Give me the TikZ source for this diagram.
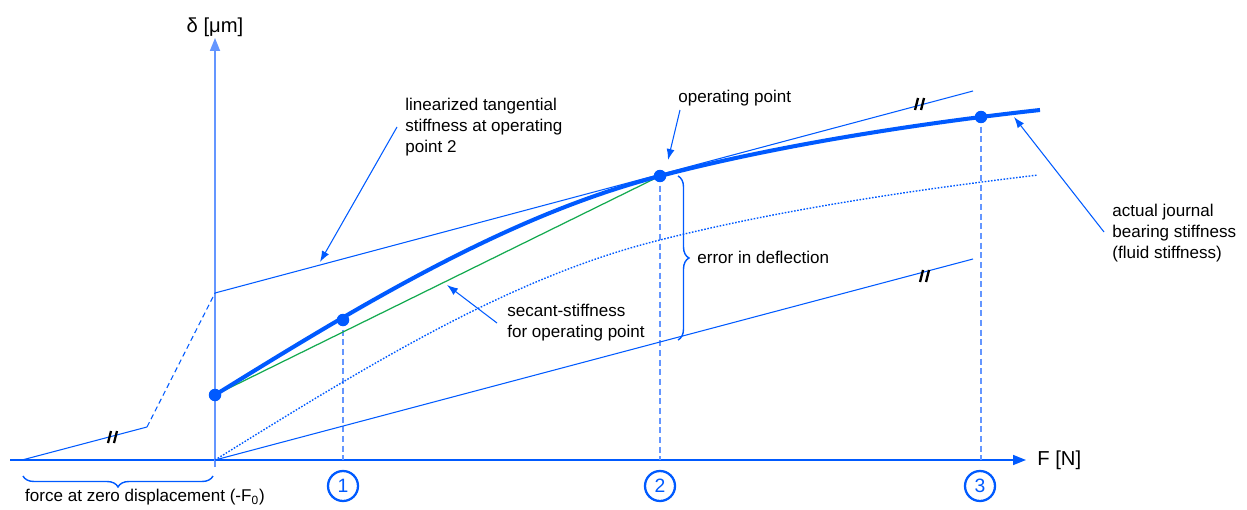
\documentclass[tikz,border=0pt]{standalone}
\usepackage{fontspec}
\setmainfont{Liberation Sans}
\usetikzlibrary{arrows.meta,decorations.pathreplacing,positioning}
\definecolor{curveblue}{RGB}{0,90,255}
\definecolor{axisblue}{RGB}{100,150,255}
\definecolor{secantgreen}{RGB}{20,170,80}

\begin{document}
\begin{tikzpicture}[x=0.02cm, y=-0.02cm,
  thin line/.style={curveblue, line width=0.6pt},
  thick curve/.style={curveblue, line width=2.3pt},
  drop/.style={axisblue, line width=0.8pt, dash pattern=on 3.5pt off 2pt},
  pointdot/.style={circle, fill=curveblue, inner sep=0pt, minimum size=0.25cm},
  labeltext/.style={font=\fontsize{9.7}{12}\selectfont, align=left, anchor=west, inner sep=0pt},
  axistext/.style={font=\fontsize{11.5}{14}\selectfont, inner sep=0pt},
  pointer/.style={thin line, -{Latex[length=2.2mm,width=1.6mm]}},
  numcircle/.style={circle, draw=curveblue, line width=1.3pt, text=curveblue, minimum size=0.6cm, inner sep=0pt, font=\fontsize{11}{13}\selectfont},
  bracket/.style={thin line, line width=0.8pt, decorate, decoration={brace, amplitude=0.22cm}},
  brk/.pic={\draw[black, line width=1.3pt] (-5,6) -- (-2,-6) (1,6) -- (4,-6);}
]
\useasboundingbox (0,0) rectangle (1247,510);

% points on the curves
\coordinate (O) at (215,460);
\coordinate (p0) at (215,395);
\coordinate (p1) at (343,320);
\coordinate (p2) at (660,176);
\coordinate (p3) at (981,117);
\coordinate (cend) at (1040,110);
\coordinate (t0) at (215,293);
\coordinate (t1) at (973,91);
\coordinate (lowend) at (973,259);
\coordinate (f0) at (22,460);
\coordinate (knee) at (147,427);

% axes
\coordinate (xstart) at (10,460);
\coordinate (xtip) at (1026,460);
\coordinate (ystart) at (215,467);
\coordinate (ytip) at (215,38);
\draw[curveblue, line width=0.9pt, -{Triangle[length=2.6mm,width=2mm]}] (xstart) -- (xtip);
\draw[axisblue, line width=1pt, -{Triangle[length=2.6mm,width=2mm]}] (ystart) -- (ytip);
\node[axistext, anchor=west] (xlabel) at (1037,460) {F [N]};
\node[axistext] (ylabel) at (215,27) {δ [μm]};

% drop lines and numbered points
\node[numcircle] (n1) at (343,486) {1};
\node[numcircle] (n2) at (660,486) {2};
\node[numcircle] (n3) at (980,486) {3};
\draw[drop] (p1) -- (343,460);
\draw[drop] (p2) -- (660,460);
\draw[drop] (p3) -- (981,460);

% tangent, parallel and secant lines
\draw[thin line] (t0) -- (t1);
\draw[thin line] (O) -- (lowend);
\draw[thin line] (f0) -- (knee);
\draw[thin line, dash pattern=on 3pt off 2pt] (knee) -- (t0);
\draw[secantgreen, line width=0.7pt] (p0) -- (p2);
\pic at (920,104) {brk};
\pic at (925,276) {brk};
\pic at (113,437) {brk};

% fluid stiffness curves
\draw[curveblue, line width=0.8pt, dash pattern=on 0.9pt off 0.9pt] (O) .. controls (365,367) and (510,277) .. (660,240)
  .. controls (790,207) and (938,187) .. (1038,175);
\draw[thick curve] (p0) .. controls (365,302) and (510,215) .. (p2)
  .. controls (790,142) and (940,121) .. (cend);
\foreach \p in {p0,p1,p2,p3} \node[pointdot] at (\p) {};

% braces
\draw[bracket] (678,176) -- (678,340);
\draw[bracket] (213,476) -- (23,476);
\node[labeltext] (errtxt) at (697,257) {error in deflection};
\node[labeltext, anchor=center] (f0txt) at (145,497) {force at zero displacement (-F\textsubscript{0})};

% labels with pointers
\node[labeltext] (lintxt) at (405,127) {linearized tangential\\stiffness at operating\\point 2};
\node[labeltext] (optxt) at (678,98) {operating point};
\node[labeltext] (sectxt) at (507,323) {secant-stiffness\\for operating point};
\node[labeltext] (acttxt) at (1112,233) {actual journal\\bearing stiffness\\(fluid stiffness)};
\coordinate (linfrom) at (397,127);
\coordinate (linto) at (320,262);
\coordinate (opfrom) at (680,110);
\coordinate (opto) at (668,160);
\coordinate (secfrom) at (497,323);
\coordinate (secto) at (447,285);
\coordinate (actfrom) at (1104,232);
\coordinate (actto) at (1014,117);
\draw[pointer] (linfrom) -- (linto);
\draw[pointer] (opfrom) -- (opto);
\draw[pointer] (secfrom) -- (secto);
\draw[pointer] (actfrom) -- (actto);
\end{tikzpicture}
\end{document}
